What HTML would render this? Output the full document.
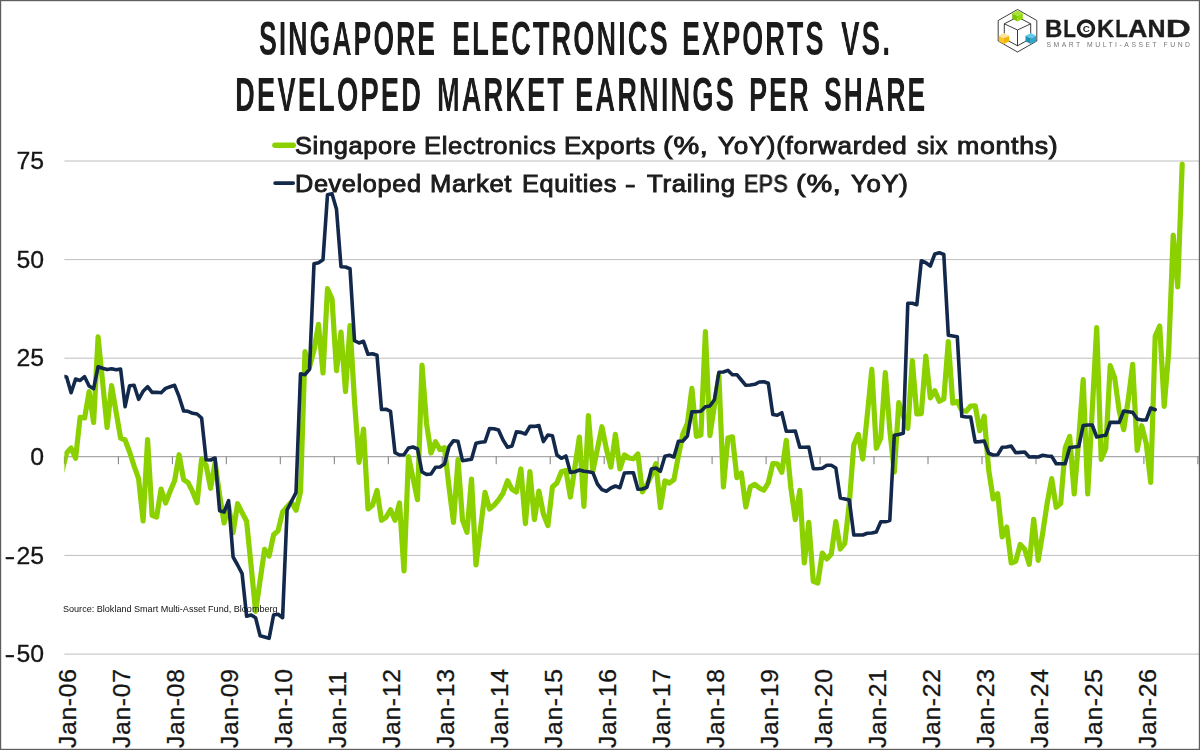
<!DOCTYPE html>
<html lang="en"><head><meta charset="utf-8"><title>Singapore Electronics Exports vs. Developed Market Earnings Per Share</title>
<style>
html,body{margin:0;padding:0;background:#fff;}
body{width:1200px;height:750px;position:relative;overflow:hidden;font-family:"Liberation Sans",sans-serif;color:#1a1a1a;}
svg{position:absolute;left:0;top:0;}
.t{position:absolute;white-space:nowrap;line-height:1;will-change:transform;}
.row{position:absolute;left:0;width:1200px;height:0;}
.row span{transform-origin:0 0;top:0;}
.title{font-weight:bold;font-size:48px;color:#1b1b1b;letter-spacing:3.6px;}
.leg{font-size:23px;letter-spacing:0.6px;color:#1c1c1c;-webkit-text-stroke:0.9px #1c1c1c;}
.yl{-webkit-text-stroke:0.3px #151515;font-size:24.8px;text-align:right;width:44px;left:0;color:#151515;}
.hy{display:inline-block;transform:scaleX(1.3);transform-origin:100% 50%;margin-right:1.6px;}
.xl{-webkit-text-stroke:0.3px #151515;font-size:24.8px;letter-spacing:0.63px;will-change:auto;transform-origin:0 0;transform:rotate(-90deg);color:#151515;}
.src{font-size:9.07px;color:#111;}
</style></head><body>

<svg width="1200" height="750" viewBox="0 0 1200 750">
<defs><clipPath id="plot"><rect x="64.4" y="100" width="1135" height="600"/></clipPath></defs>
<line x1="64.4" x2="1199" y1="161.0" y2="161.0" stroke="#bebebe" stroke-width="1"/>
<line x1="64.4" x2="1199" y1="259.6" y2="259.6" stroke="#bebebe" stroke-width="1"/>
<line x1="64.4" x2="1199" y1="358.2" y2="358.2" stroke="#bebebe" stroke-width="1"/>
<line x1="64.4" x2="1199" y1="555.4" y2="555.4" stroke="#bebebe" stroke-width="1"/>
<line x1="64.4" x2="1199" y1="654.1" y2="654.1" stroke="#bebebe" stroke-width="1"/>
<line x1="64.4" x2="1199" y1="456.7" y2="456.7" stroke="#a9a9a9" stroke-width="1.2"/>
<line x1="64.4" x2="64.4" y1="456.7" y2="464.2" stroke="#5a5a5a" stroke-width="0.8"/>
<line x1="118.4" x2="118.4" y1="456.7" y2="464.2" stroke="#5a5a5a" stroke-width="0.8"/>
<line x1="172.4" x2="172.4" y1="456.7" y2="464.2" stroke="#5a5a5a" stroke-width="0.8"/>
<line x1="226.3" x2="226.3" y1="456.7" y2="464.2" stroke="#5a5a5a" stroke-width="0.8"/>
<line x1="280.3" x2="280.3" y1="456.7" y2="464.2" stroke="#5a5a5a" stroke-width="0.8"/>
<line x1="334.3" x2="334.3" y1="456.7" y2="464.2" stroke="#5a5a5a" stroke-width="0.8"/>
<line x1="388.3" x2="388.3" y1="456.7" y2="464.2" stroke="#5a5a5a" stroke-width="0.8"/>
<line x1="442.2" x2="442.2" y1="456.7" y2="464.2" stroke="#5a5a5a" stroke-width="0.8"/>
<line x1="496.2" x2="496.2" y1="456.7" y2="464.2" stroke="#5a5a5a" stroke-width="0.8"/>
<line x1="550.2" x2="550.2" y1="456.7" y2="464.2" stroke="#5a5a5a" stroke-width="0.8"/>
<line x1="604.2" x2="604.2" y1="456.7" y2="464.2" stroke="#5a5a5a" stroke-width="0.8"/>
<line x1="658.1" x2="658.1" y1="456.7" y2="464.2" stroke="#5a5a5a" stroke-width="0.8"/>
<line x1="712.1" x2="712.1" y1="456.7" y2="464.2" stroke="#5a5a5a" stroke-width="0.8"/>
<line x1="766.1" x2="766.1" y1="456.7" y2="464.2" stroke="#5a5a5a" stroke-width="0.8"/>
<line x1="820.1" x2="820.1" y1="456.7" y2="464.2" stroke="#5a5a5a" stroke-width="0.8"/>
<line x1="874.0" x2="874.0" y1="456.7" y2="464.2" stroke="#5a5a5a" stroke-width="0.8"/>
<line x1="928.0" x2="928.0" y1="456.7" y2="464.2" stroke="#5a5a5a" stroke-width="0.8"/>
<line x1="982.0" x2="982.0" y1="456.7" y2="464.2" stroke="#5a5a5a" stroke-width="0.8"/>
<line x1="1036.0" x2="1036.0" y1="456.7" y2="464.2" stroke="#5a5a5a" stroke-width="0.8"/>
<line x1="1089.9" x2="1089.9" y1="456.7" y2="464.2" stroke="#5a5a5a" stroke-width="0.8"/>
<line x1="1143.9" x2="1143.9" y1="456.7" y2="464.2" stroke="#5a5a5a" stroke-width="0.8"/>
<line x1="1197.9" x2="1197.9" y1="456.7" y2="464.2" stroke="#5a5a5a" stroke-width="0.8"/>
<g clip-path="url(#plot)" fill="none" stroke-linejoin="round" stroke-linecap="round">
<polyline points="62.2,470.9 66.6,452.9 71.1,448.0 75.6,458.3 80.1,417.3 84.6,418.0 89.1,391.6 93.6,422.5 98.1,336.9 102.6,382.0 107.1,427.5 111.6,385.6 116.1,412.0 120.6,438.0 125.1,440.0 129.6,452.0 134.1,466.0 138.6,478.7 143.1,521.0 147.6,439.6 152.1,515.3 156.6,517.0 161.1,489.0 165.6,503.0 170.1,491.3 174.6,480.7 179.1,454.7 183.6,479.6 188.1,482.7 192.6,491.7 197.1,502.7 201.6,459.0 206.1,465.3 210.6,488.3 215.1,462.5 219.6,495.0 224.1,523.0 228.6,506.0 233.1,532.7 237.6,503.7 242.1,512.7 246.6,521.3 251.1,566.0 255.6,611.3 260.1,580.3 264.6,549.4 269.1,556.0 273.6,534.7 278.1,530.7 282.6,512.0 287.1,506.7 291.5,502.0 296.0,510.3 300.5,492.0 305.0,351.7 309.5,367.0 314.0,350.0 318.5,324.4 323.0,373.0 327.5,288.7 332.0,298.7 336.5,370.7 341.0,332.0 345.5,391.6 350.0,325.7 354.5,401.0 359.0,462.3 363.5,429.0 368.0,509.0 372.5,505.3 377.0,490.4 381.5,520.3 386.0,517.3 390.5,509.7 395.0,520.3 399.5,503.0 404.0,571.0 408.5,456.7 413.0,478.0 417.5,499.6 422.0,365.0 426.5,423.3 431.0,453.0 435.5,441.7 440.0,449.6 444.5,447.7 449.0,487.0 453.5,522.3 458.0,459.7 462.5,520.0 467.0,532.3 471.5,479.0 476.0,565.0 480.5,528.7 485.0,492.4 489.5,509.0 494.0,505.3 498.5,500.0 503.0,493.3 507.5,480.8 512.0,489.3 516.4,492.0 520.9,469.0 525.4,523.6 529.9,471.7 534.4,519.6 538.9,491.0 543.4,514.0 547.9,525.6 552.4,487.0 556.9,483.0 561.4,471.7 565.9,470.4 570.4,497.0 574.9,467.0 579.4,437.0 583.9,506.3 588.4,415.7 592.9,471.0 597.4,449.0 601.9,426.7 606.4,449.0 610.9,467.0 615.4,434.4 619.9,469.0 624.4,455.0 628.9,458.0 633.4,458.8 637.9,454.0 642.4,492.0 646.9,484.7 651.4,475.3 655.9,463.7 660.4,507.6 664.9,481.0 669.4,483.0 673.9,479.7 678.4,456.0 682.9,433.7 687.4,423.3 691.9,388.4 696.4,436.3 700.9,435.0 705.4,331.7 709.9,435.6 714.4,405.6 718.9,375.7 723.4,487.0 727.9,438.0 732.4,436.8 736.9,477.6 741.3,473.0 745.8,507.0 750.3,486.7 754.8,484.4 759.3,488.0 763.8,490.3 768.3,482.7 772.8,463.5 777.3,463.8 781.8,472.3 786.3,440.4 790.8,487.3 795.3,519.6 799.8,490.4 804.3,563.0 808.8,522.4 813.3,581.3 817.8,583.0 822.3,553.0 826.8,559.0 831.3,554.0 835.8,521.7 840.3,549.0 844.8,543.3 849.3,503.3 853.8,444.7 858.3,434.4 862.8,459.0 867.3,415.0 871.8,369.4 876.3,448.3 880.8,438.0 885.3,372.7 889.8,430.0 894.3,472.0 898.8,402.7 903.3,416.0 907.8,428.3 912.3,360.7 916.8,414.0 921.3,413.6 925.8,356.0 930.3,397.8 934.8,390.8 939.3,401.3 943.8,399.0 948.3,341.5 952.8,403.2 957.3,401.5 961.8,410.3 966.2,411.2 970.7,406.0 975.2,405.8 979.7,430.7 984.2,416.2 988.7,470.0 993.2,499.0 997.7,493.7 1002.2,537.0 1006.7,527.0 1011.2,563.0 1015.7,561.3 1020.2,544.4 1024.7,549.3 1029.2,564.3 1033.7,519.3 1038.2,560.3 1042.7,533.0 1047.2,503.0 1051.7,478.6 1056.2,507.3 1060.7,503.6 1065.2,448.0 1069.7,436.4 1074.2,494.0 1078.7,440.0 1083.2,379.7 1087.7,494.0 1092.2,411.0 1096.7,327.7 1101.2,459.3 1105.7,448.8 1110.2,365.7 1114.7,378.0 1119.2,411.0 1123.7,429.6 1128.2,400.0 1132.7,364.4 1137.2,450.3 1141.7,425.7 1146.2,443.3 1150.7,482.4 1155.2,336.0 1159.7,326.0 1164.2,406.3 1168.7,352.0 1173.2,235.0 1177.7,287.0 1182.2,164.2" stroke="#8bd100" stroke-width="5.2"/>
<polyline points="62.2,376.0 66.6,376.9 71.1,392.7 75.6,379.1 80.1,380.4 84.6,376.7 89.1,386.0 93.6,388.7 98.1,366.7 102.6,368.3 107.1,369.6 111.6,368.7 116.1,369.7 120.6,369.1 125.1,406.7 129.6,385.7 134.1,385.3 138.6,399.3 143.1,391.3 147.6,386.7 152.1,392.4 156.6,392.3 161.1,392.7 165.6,388.4 170.1,386.7 174.6,385.3 179.1,396.7 183.6,410.9 188.1,411.3 192.6,413.3 197.1,414.0 201.6,418.0 206.1,459.7 210.6,460.0 215.1,458.0 219.6,510.7 224.1,512.0 228.6,500.7 233.1,557.0 237.6,565.0 242.1,573.7 246.6,616.3 251.1,615.0 255.6,617.7 260.1,635.7 264.6,637.0 269.1,638.3 273.6,615.0 278.1,614.3 282.6,617.7 287.1,510.0 291.5,501.3 296.0,492.7 300.5,373.7 305.0,374.7 309.5,369.3 314.0,263.7 318.5,262.7 323.0,259.7 327.5,194.7 332.0,193.7 336.5,209.3 341.0,266.7 345.5,267.0 350.0,268.7 354.5,340.7 359.0,343.0 363.5,341.3 368.0,354.3 372.5,353.7 377.0,355.3 381.5,409.5 386.0,409.2 390.5,411.3 395.0,452.7 399.5,455.0 404.0,454.7 408.5,448.0 413.0,447.0 417.5,449.0 422.0,472.0 426.5,474.4 431.0,474.0 435.5,467.3 440.0,467.0 444.5,464.0 449.0,446.7 453.5,440.7 458.0,441.3 462.5,460.7 467.0,460.0 471.5,459.3 476.0,443.3 480.5,442.2 485.0,441.8 489.5,428.5 494.0,428.7 498.5,430.0 503.0,440.0 507.5,447.3 512.0,446.0 516.4,431.7 520.9,432.4 525.4,434.0 529.9,426.3 534.4,426.4 538.9,425.6 543.4,441.6 547.9,435.0 552.4,435.7 556.9,455.0 561.4,458.3 565.9,456.0 570.4,472.4 574.9,471.7 579.4,470.0 583.9,471.3 588.4,471.7 592.9,472.7 597.4,484.0 601.9,489.6 606.4,491.3 610.9,488.0 615.4,486.0 619.9,487.7 624.4,473.0 628.9,472.7 633.4,472.7 637.9,489.3 642.4,489.0 646.9,487.3 651.4,469.0 655.9,468.0 660.4,471.3 664.9,456.3 669.4,455.3 673.9,457.0 678.4,441.3 682.9,441.0 687.4,436.0 691.9,411.7 696.4,411.7 700.9,411.3 705.4,406.7 709.9,406.0 714.4,399.8 718.9,372.3 723.4,372.0 727.9,370.4 732.4,374.7 736.9,374.7 741.3,380.0 745.8,385.3 750.3,385.0 754.8,384.3 759.3,382.0 763.8,381.7 768.3,383.3 772.8,414.4 777.3,415.3 781.8,412.7 786.3,431.3 790.8,431.3 795.3,431.0 799.8,447.3 804.3,447.3 808.8,447.0 813.3,468.7 817.8,468.7 822.3,468.3 826.8,465.3 831.3,465.3 835.8,468.0 840.3,498.0 844.8,499.0 849.3,500.0 853.8,535.0 858.3,535.0 862.8,535.0 867.3,533.3 871.8,533.0 876.3,532.0 880.8,521.7 885.3,521.7 889.8,520.4 894.3,435.3 898.8,434.4 903.3,433.3 907.8,303.3 912.3,303.3 916.8,304.7 921.3,260.7 925.8,262.7 930.3,266.0 934.8,254.0 939.3,252.7 943.8,254.4 948.3,335.2 952.8,336.0 957.3,336.7 961.8,416.3 966.2,417.0 970.7,417.0 975.2,442.0 979.7,441.6 984.2,441.0 988.7,453.3 993.2,455.0 997.7,454.7 1002.2,447.3 1006.7,447.0 1011.2,446.0 1015.7,452.7 1020.2,452.4 1024.7,452.0 1029.2,457.0 1033.7,456.7 1038.2,457.0 1042.7,455.3 1047.2,456.0 1051.7,456.4 1056.2,463.7 1060.7,463.7 1065.2,463.7 1069.7,447.5 1074.2,447.0 1078.7,446.5 1083.2,425.5 1087.7,425.0 1092.2,425.0 1096.7,437.0 1101.2,436.0 1105.7,435.3 1110.2,422.4 1114.7,422.4 1119.2,422.4 1123.7,411.0 1128.2,411.7 1132.7,412.4 1137.2,419.0 1141.7,420.0 1146.2,420.0 1150.7,408.0 1155.2,409.7" stroke="#13294b" stroke-width="3.6"/>
</g>
<line x1="274.9" x2="293.3" y1="145.2" y2="145.2" stroke="#8bd100" stroke-width="5.4" stroke-linecap="round"/>
<line x1="275.1" x2="293.2" y1="183.1" y2="183.1" stroke="#13294b" stroke-width="3.7" stroke-linecap="round"/>
</svg>
<div class="row title" style="top:15.0px;"><span class="t" style="left:259.44px;transform:scaleX(0.5559);">SINGAPORE</span> <span class="t" style="left:451.60px;transform:scaleX(0.5676);">ELECTRONICS</span> <span class="t" style="left:682.31px;transform:scaleX(0.5640);">EXPORTS</span> <span class="t" style="left:840.70px;transform:scaleX(0.5789);">VS.</span></div>
<div class="row title" style="top:71.0px;"><span class="t" style="left:234.98px;transform:scaleX(0.5725);">DEVELOPED</span> <span class="t" style="left:436.60px;transform:scaleX(0.5682);">MARKET</span> <span class="t" style="left:574.99px;transform:scaleX(0.5704);">EARNINGS</span> <span class="t" style="left:749.01px;transform:scaleX(0.5634);">PER</span> <span class="t" style="left:824.45px;transform:scaleX(0.5543);">SHARE</span></div>
<div class="row leg" style="top:135.0px;"><span class="t" style="left:294.90px;transform:scaleX(1.1032);">Singapore</span> <span class="t" style="left:423.89px;transform:scaleX(1.1113);">Electronics</span> <span class="t" style="left:563.88px;transform:scaleX(1.1177);">Exports</span> <span class="t" style="left:663.14px;transform:scaleX(1.2579);">(%,</span> <span class="t" style="left:718.10px;transform:scaleX(1.1322);">YoY)(forwarded</span> <span class="t" style="left:916.70px;transform:scaleX(1.0332);">six</span> <span class="t" style="left:957.14px;transform:scaleX(1.1609);">months)</span></div>
<div class="row leg" style="top:173.0px;"><span class="t" style="left:294.90px;transform:scaleX(1.0976);">Developed</span> <span class="t" style="left:429.59px;transform:scaleX(1.1111);">Market</span> <span class="t" style="left:522.20px;transform:scaleX(1.0967);">Equities</span> <span class="t" style="left:625.32px;transform:scaleX(1.3833);">-</span> <span class="t" style="left:646.60px;transform:scaleX(1.1197);">Trailing</span> <span class="t" style="left:743.78px;transform:scaleX(0.9219);">EPS</span> <span class="t" style="left:796.44px;transform:scaleX(1.2579);">(%,</span> <span class="t" style="left:850.80px;transform:scaleX(1.1204);">YoY)</span></div>
<div class="t yl" style="top:149.0px;">75</div>
<div class="t yl" style="top:248.0px;">50</div>
<div class="t yl" style="top:346.0px;">25</div>
<div class="t yl" style="top:445.0px;">0</div>
<div class="t yl" style="top:544.0px;"><span class="hy">-</span>25</div>
<div class="t yl" style="top:642.0px;"><span class="hy">-</span>50</div>
<div class="t xl" style="left:56.2px;top:747.6px;">Jan-06</div>
<div class="t xl" style="left:110.2px;top:747.6px;">Jan-07</div>
<div class="t xl" style="left:164.2px;top:747.6px;">Jan-08</div>
<div class="t xl" style="left:218.2px;top:747.6px;">Jan-09</div>
<div class="t xl" style="left:272.2px;top:747.6px;">Jan-10</div>
<div class="t xl" style="left:326.1px;top:747.6px;">Jan-11</div>
<div class="t xl" style="left:380.1px;top:747.6px;">Jan-12</div>
<div class="t xl" style="left:434.1px;top:747.6px;">Jan-13</div>
<div class="t xl" style="left:488.1px;top:747.6px;">Jan-14</div>
<div class="t xl" style="left:542.0px;top:747.6px;">Jan-15</div>
<div class="t xl" style="left:596.0px;top:747.6px;">Jan-16</div>
<div class="t xl" style="left:650.0px;top:747.6px;">Jan-17</div>
<div class="t xl" style="left:704.0px;top:747.6px;">Jan-18</div>
<div class="t xl" style="left:757.9px;top:747.6px;">Jan-19</div>
<div class="t xl" style="left:811.9px;top:747.6px;">Jan-20</div>
<div class="t xl" style="left:865.9px;top:747.6px;">Jan-21</div>
<div class="t xl" style="left:919.9px;top:747.6px;">Jan-22</div>
<div class="t xl" style="left:973.8px;top:747.6px;">Jan-23</div>
<div class="t xl" style="left:1027.8px;top:747.6px;">Jan-24</div>
<div class="t xl" style="left:1081.8px;top:747.6px;">Jan-25</div>
<div class="t xl" style="left:1135.8px;top:747.6px;">Jan-26</div>
<div class="t src" style="left:63.2px;top:605px;">Source: Blokland Smart Multi-Asset Fund, Bloomberg</div>
<svg width="1200" height="750" viewBox="0 0 1200 750" style="pointer-events:none">
<g fill="none" stroke="#1a1a1a" stroke-width="0.85" stroke-linejoin="round">
<polygon points="1017.5,9.5 1036.8,20.5 1036.8,41 1017.5,52 998.2,41 998.2,20.5"/>
<polygon points="1017.5,17 1030.7,23.8 1030.7,38.5 1017.5,45.8 1004.3,38.5 1004.3,23.8"/>
<path d="M1004.3,23.8 L1017.5,30 L1030.7,23.8 M1017.5,30 L1017.5,45.8"/>
</g>
<g stroke="none">
<polygon points="1017.5,10.5 1022.8,13.2 1017.5,16 1012.2,13.2" fill="#a4e62c"/>
<polygon points="1012.2,13.2 1017.5,16 1017.5,21.5 1012.2,18.8" fill="#7cc400"/>
<polygon points="1022.8,13.2 1017.5,16 1017.5,21.5 1022.8,18.8" fill="#8fd80a"/>
<polygon points="1004,33 1009.2,35.7 1004,38.5 998.8,35.7" fill="#ffe39a"/>
<polygon points="998.8,35.7 1004,38.5 1004,44 998.8,41.3" fill="#ffc526"/>
<polygon points="1009.2,35.7 1004,38.5 1004,44 1009.2,41.3" fill="#f2b405"/>
<polygon points="1030.8,33 1036.1,35.7 1030.8,38.5 1025.5,35.7" fill="#62cbea"/>
<polygon points="1025.5,35.7 1030.8,38.5 1030.8,44 1025.5,41.3" fill="#1f8fb2"/>
<polygon points="1036.1,35.7 1030.8,38.5 1030.8,44 1036.1,41.3" fill="#2ba9cc"/>
</g>
<g font-family="Liberation Sans, sans-serif" font-weight="bold" font-size="24" fill="#1d1d1d" stroke="#1d1d1d" stroke-width="0.35">
<text transform="translate(1045.1,37.1) scale(1,1)">B</text>
<text transform="translate(1063.3,37.1) scale(0.861,1)">L</text>
<text transform="translate(1097.1,37.1) scale(0.987,1)">K</text>
<text transform="translate(1115.3,37.1) scale(0.861,1)">L</text>
<text transform="translate(1128.0,37.1) scale(1.118,1)">A</text>
<text transform="translate(1147.6,37.1) scale(1.043,1)">N</text>
<text transform="translate(1165.7,37.1) scale(1.448,1)">D</text>
</g>
<circle cx="1086" cy="28.6" r="7.5" fill="none" stroke="#1d1d1d" stroke-width="3.5"/>
<text x="1086.3" y="32.0" font-family="Liberation Sans, sans-serif" font-weight="bold" font-size="9.8" fill="#1d1d1d" text-anchor="middle">C</text>
<text x="1046.4" y="46.7" font-family="Liberation Sans, sans-serif" font-size="6.8" letter-spacing="2.53" fill="#777">SMART MULTI-ASSET FUND</text>
</svg>
<svg width="1200" height="750" style="pointer-events:none"><rect x="0.6" y="0.6" width="1198.8" height="748.8" fill="none" stroke="#5e5e5e" stroke-width="1.2"/></svg>
</body></html>
